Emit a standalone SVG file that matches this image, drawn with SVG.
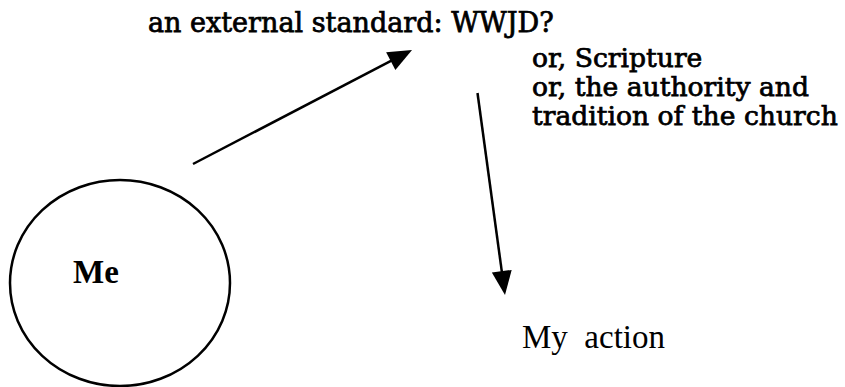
<svg xmlns="http://www.w3.org/2000/svg" width="845" height="387" viewBox="0 0 845 387">
<defs>
<style>
.bg{fill:#fff}
.lbl{font-family:"DejaVu Serif","Liberation Serif",serif;font-size:26.6px;fill:#000;stroke:#000;stroke-width:0.75}
.top{font-size:27px}
.tnr{font-family:"Liberation Serif","Times New Roman",serif;font-size:33px;fill:#000;white-space:pre}
.edge{stroke:#000;stroke-width:2.5;fill:none}
.node{stroke:#000;stroke-width:2.5;fill:none}
</style>
<marker id="ah" markerUnits="userSpaceOnUse" markerWidth="24" markerHeight="20" refX="4" refY="10" orient="auto" overflow="visible">
<path d="M0,0 L24,10 L0,20 z" fill="#000"/>
</marker>
</defs>
<rect class="bg" x="0" y="0" width="845" height="387"/>
<g id="standard">
<text class="lbl top" x="148" y="32">an external standard: WWJD?</text>
</g>
<g id="alternatives">
<text class="lbl" x="532" y="67">or, Scripture</text>
<text class="lbl" x="532" y="96">or, the authority and</text>
<text class="lbl" x="532" y="125">tradition of the church</text>
</g>
<g id="me">
<ellipse class="node" cx="120" cy="283" rx="110" ry="103"/>
<text class="tnr" x="73" y="283" font-weight="bold">Me</text>
</g>
<g id="action">
<text class="tnr" x="522" y="348">My  action</text>
</g>
<g id="connectors">
<line class="edge" x1="193" y1="164" x2="394.3" y2="59.2" marker-end="url(#ah)"/>
<line class="edge" x1="477.5" y1="93" x2="502.3" y2="275.2" marker-end="url(#ah)"/>
</g>
</svg>
